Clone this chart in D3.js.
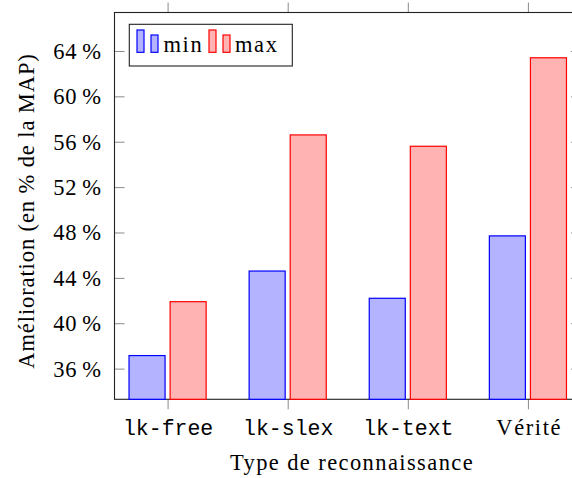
<!DOCTYPE html>
<html>
<head>
<meta charset="utf-8">
<script src="https://cdn.jsdelivr.net/npm/d3@7/dist/d3.min.js"></script>
<style>
  html, body { margin: 0; padding: 0; background: #fff; }
  svg { display: block; }
</style>
</head>
<body>
<svg id="chart" width="572" height="478"></svg>
<script>
// Recognition types and the improvement range (min / max, % of MAP)
const categories = ["lk-free", "lk-slex", "lk-text", "Vérité"];
const minValues = [37.15, 44.6, 42.2, 47.7];
const maxValues = [41.9, 56.6, 55.6, 63.4];
const yTicks = [36, 40, 44, 48, 52, 56, 60, 64];
const seriesNames = ["min", "max"];

const serif = "'Liberation Serif', 'Times New Roman', serif";
const mono = "'Liberation Mono', 'DejaVu Sans Mono', monospace";

const svg = d3.select("#chart");

const plotLeft = 114.5, plotRight = 581, plotTop = 12.5, plotBottom = 399.3;

// categories sit at integer positions with enlarged limits on both sides
const x = d3.scaleLinear().domain([-0.442, 3.442]).range([plotLeft, plotRight]);
const y = d3.scaleLinear().domain([33.295, 67.39]).range([plotBottom, plotTop]);

const step = x(1) - x(0);
const barW = step * 0.3;
const offset = step * 0.171;

const series = [
  { name: "min", values: minValues, fill: "#b3b3ff", stroke: "#0000ff", dx: -offset },
  { name: "max", values: maxValues, fill: "#ffb3b3", stroke: "#ff0000", dx: offset }
];

const tickColor = "#8a8a8a";
const tickLen = 10;

// y ticks (inside, on both sides)
const yAxisL = d3.axisLeft(y).tickValues(yTicks).tickSize(-tickLen).tickSizeOuter(0)
  .tickPadding(13).tickFormat(d => d + "\u2009%");
const gyL = svg.append("g").attr("transform", `translate(${plotLeft},0)`).call(yAxisL);
gyL.select(".domain").remove();
gyL.selectAll(".tick line").attr("stroke", tickColor);
gyL.selectAll(".tick text").attr("font-family", serif).attr("font-size", 22.5)
  .attr("letter-spacing", 0.6).attr("fill", "#000").attr("dy", "0.33em");

const yAxisR = d3.axisRight(y).tickValues(yTicks).tickSize(-tickLen).tickSizeOuter(0).tickFormat("");
const gyR = svg.append("g").attr("transform", `translate(${plotRight},0)`).call(yAxisR);
gyR.select(".domain").remove();
gyR.selectAll(".tick line").attr("stroke", tickColor);

// x ticks (outside, bottom and top)
const xIdx = d3.range(categories.length);
const xAxisB = d3.axisBottom(x).tickValues(xIdx).tickSize(tickLen).tickSizeOuter(0).tickFormat("");
const gxB = svg.append("g").attr("transform", `translate(0,${plotBottom})`).call(xAxisB);
gxB.select(".domain").remove();
gxB.selectAll(".tick line").attr("stroke", tickColor);

const xAxisT = d3.axisTop(x).tickValues(xIdx).tickSize(tickLen).tickSizeOuter(0).tickFormat("");
const gxT = svg.append("g").attr("transform", `translate(0,${plotTop})`).call(xAxisT);
gxT.select(".domain").remove();
gxT.selectAll(".tick line").attr("stroke", tickColor);

// category labels: typewriter for system names, roman for the reference
gxB.selectAll(".tick").append("text")
  .attr("y", 36)
  .attr("x", (d, i) => i < 3 ? 0 : 0.8)
  .attr("text-anchor", "middle")
  .attr("fill", "#000")
  .attr("font-family", (d, i) => i < 3 ? mono : serif)
  .attr("font-size", (d, i) => i < 3 ? 21.5 : 22.5)
  .attr("letter-spacing", (d, i) => i < 3 ? 0 : 1.6)
  .text((d, i) => categories[i]);

// frame
svg.append("rect")
  .attr("x", plotLeft).attr("y", plotTop)
  .attr("width", plotRight - plotLeft).attr("height", plotBottom - plotTop)
  .attr("fill", "none").attr("stroke", "#222").attr("stroke-width", 1.1);

// bars
series.forEach(s => {
  svg.append("g").selectAll("rect").data(s.values).join("rect")
    .attr("x", (d, i) => x(i) + s.dx - barW / 2)
    .attr("y", d => y(d))
    .attr("width", barW)
    .attr("height", d => plotBottom - y(d))
    .attr("fill", s.fill)
    .attr("stroke", s.stroke)
    .attr("stroke-width", 1.2);
});

// axis titles
svg.append("text")
  .attr("x", 352).attr("y", 470)
  .attr("text-anchor", "middle")
  .attr("font-family", serif).attr("font-size", 22.5).attr("letter-spacing", 1.4)
  .attr("fill", "#000")
  .text("Type de reconnaissance");

svg.append("text")
  .attr("transform", "translate(34,211) rotate(-90)")
  .attr("text-anchor", "middle")
  .attr("font-family", serif).attr("font-size", 22.5).attr("letter-spacing", 0.9)
  .attr("fill", "#000")
  .text("Amélioration (en % de la MAP)");

// legend
const lg = svg.append("g");
lg.append("rect")
  .attr("x", 129.3).attr("y", 24.3).attr("width", 163).attr("height", 41.7)
  .attr("fill", "#fff").attr("stroke", "#222").attr("stroke-width", 1.1);

const legendItems = [
  { x0: 137, textX: 163.5 },
  { x0: 209, textX: 235 }
];
series.forEach((s, k) => {
  const it = legendItems[k];
  lg.append("rect").attr("x", it.x0).attr("y", 30).attr("width", 7).attr("height", 22.3)
    .attr("fill", s.fill).attr("stroke", s.stroke).attr("stroke-width", 1.2);
  lg.append("rect").attr("x", it.x0 + 14).attr("y", 35).attr("width", 7).attr("height", 17.3)
    .attr("fill", s.fill).attr("stroke", s.stroke).attr("stroke-width", 1.2);
  lg.append("text").attr("x", it.textX).attr("y", 52.3)
    .attr("font-family", serif).attr("font-size", 22.5).attr("letter-spacing", 1.6)
    .attr("fill", "#000")
    .text(seriesNames[k]);
});
</script>
</body>
</html>
